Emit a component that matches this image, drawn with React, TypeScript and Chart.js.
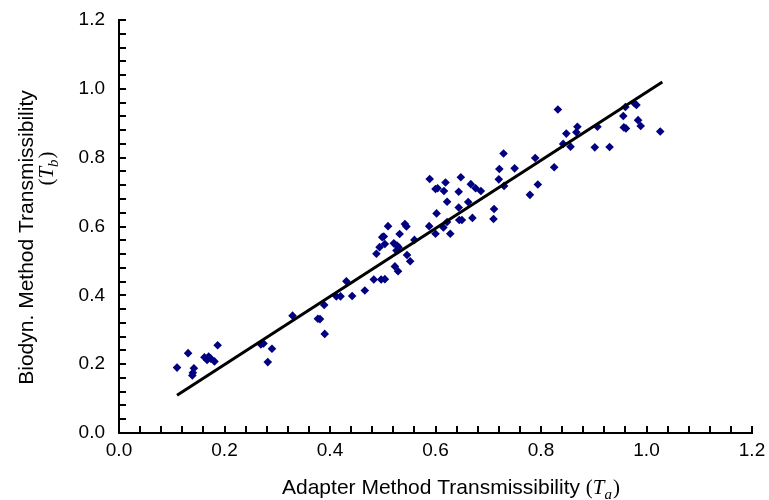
import React, { useEffect, useRef } from "react";
import { Chart, registerables } from "chart.js";

Chart.register(...registerables);

// Adapter method transmissibility (x) and biodynamic method transmissibility (y)
const adapterT = [
  0.110, 0.131, 0.142, 0.139, 0.140, 0.162, 0.167, 0.170, 0.174, 0.181,
  0.187, 0.269, 0.274, 0.282, 0.290, 0.329, 0.377, 0.381, 0.389, 0.390,
  0.412, 0.420, 0.431, 0.442, 0.466, 0.483, 0.497, 0.504, 0.488, 0.494,
  0.499, 0.502, 0.504, 0.510, 0.523, 0.529, 0.521, 0.527, 0.530, 0.526,
  0.532, 0.542, 0.545, 0.546, 0.552, 0.560, 0.588, 0.589, 0.600, 0.602,
  0.600, 0.604, 0.616, 0.619, 0.622, 0.615, 0.622, 0.628, 0.644, 0.648,
  0.644, 0.645, 0.650, 0.662, 0.667, 0.670, 0.676, 0.686, 0.711, 0.710,
  0.720, 0.721, 0.730, 0.729, 0.750, 0.779, 0.789, 0.794, 0.825, 0.832,
  0.842, 0.848, 0.856, 0.867, 0.869, 0.902, 0.907, 0.930, 0.956, 0.957,
  0.961, 0.960, 0.977, 0.981, 0.984, 0.989, 1.026,
];
const biodynT = [
  0.190, 0.232, 0.188, 0.167, 0.175, 0.220, 0.212, 0.222, 0.216, 0.208,
  0.255, 0.257, 0.260, 0.206, 0.245, 0.341, 0.332, 0.331, 0.372, 0.288,
  0.397, 0.397, 0.441, 0.398, 0.414, 0.446, 0.446, 0.447, 0.521, 0.540,
  0.569, 0.571, 0.549, 0.601, 0.484, 0.470, 0.551, 0.545, 0.540, 0.530,
  0.578, 0.607, 0.600, 0.517, 0.499, 0.561, 0.601, 0.738, 0.579, 0.638,
  0.709, 0.711, 0.703, 0.728, 0.672, 0.597, 0.613, 0.579, 0.701, 0.743,
  0.655, 0.619, 0.619, 0.671, 0.723, 0.625, 0.711, 0.703, 0.651, 0.622,
  0.737, 0.767, 0.718, 0.812, 0.769, 0.692, 0.799, 0.722, 0.772, 0.940,
  0.840, 0.870, 0.832, 0.874, 0.890, 0.830, 0.890, 0.831, 0.921, 0.888,
  0.885, 0.947, 0.958, 0.953, 0.909, 0.892, 0.876,
];

// Fitted line end points
const fitX = [0.11, 1.03];
const fitY = [0.11, 1.02];

const axisMin = 0;
const axisMax = 1.2;
const minorStep = 0.04;

const yTitleMain = "Biodyn. Method Transmissibility";
const xTitleMain = "Adapter Method Transmissibility ";
const yTitleSymbol = "T";
const yTitleSub = "b";
const xTitleSymbol = "T";
const xTitleSub = "a";

const SANS = "'Liberation Sans', Arial, sans-serif";
const SERIF = "'Liberation Serif', 'Times New Roman', serif";
const TITLE_SIZE = 21;

function measureSymbolText(ctx: CanvasRenderingContext2D, prefix: string, sym: string, sub: string) {
  ctx.font = `${TITLE_SIZE}px ${SANS}`;
  const w1 = ctx.measureText(prefix).width;
  ctx.font = `${TITLE_SIZE}px ${SERIF}`;
  const wp = ctx.measureText("(").width;
  const wq = ctx.measureText(")").width;
  ctx.font = `italic ${TITLE_SIZE}px ${SERIF}`;
  const ws = ctx.measureText(sym).width;
  ctx.font = `italic ${Math.round(TITLE_SIZE * 0.7)}px ${SERIF}`;
  const wsub = ctx.measureText(sub).width;
  return { w1, wp, wq, ws, wsub, total: w1 + wp + ws + wsub + wq + 1 };
}

function drawSymbolText(
  ctx: CanvasRenderingContext2D,
  prefix: string,
  sym: string,
  sub: string,
  x0: number,
  cy: number
) {
  const m = measureSymbolText(ctx, prefix, sym, sub);
  let x = x0;
  ctx.textBaseline = "alphabetic";
  ctx.textAlign = "left";
  ctx.font = `${TITLE_SIZE}px ${SANS}`;
  ctx.fillText(prefix, x, cy);
  x += m.w1;
  ctx.font = `${TITLE_SIZE}px ${SERIF}`;
  ctx.fillText("(", x, cy);
  x += m.wp;
  ctx.font = `italic ${TITLE_SIZE}px ${SERIF}`;
  ctx.fillText(sym, x, cy);
  x += m.ws;
  ctx.font = `italic ${Math.round(TITLE_SIZE * 0.7)}px ${SERIF}`;
  ctx.fillText(sub, x, cy + 5);
  x += m.wsub + 1;
  ctx.font = `${TITLE_SIZE}px ${SERIF}`;
  ctx.fillText(")", x, cy);
}

const decorPlugin = {
  id: "decor",
  afterDraw(chart: any) {
    const ctx: CanvasRenderingContext2D = chart.ctx;
    const { left, top, bottom } = chart.chartArea;
    const xs = chart.scales.x;
    const ys = chart.scales.y;
    ctx.save();
    ctx.strokeStyle = "#000";
    ctx.lineWidth = 2;
    const tl = 7;
    ctx.beginPath();
    xs.ticks.forEach((t: any) => {
      const px = Math.round(xs.getPixelForValue(t.value));
      ctx.moveTo(px, bottom);
      ctx.lineTo(px, bottom - tl);
    });
    ys.ticks.forEach((t: any) => {
      const py = Math.round(ys.getPixelForValue(t.value));
      ctx.moveTo(left, py);
      ctx.lineTo(left + tl, py);
    });
    ctx.stroke();

    ctx.fillStyle = "#000";
    // x title
    drawSymbolText(ctx, xTitleMain, xTitleSymbol, xTitleSub, left + 163, 494);
    // y title (rotated)
    const cy = (top + bottom) / 2 + 11;
    ctx.save();
    ctx.translate(33, cy);
    ctx.rotate(-Math.PI / 2);
    ctx.font = `${TITLE_SIZE}px ${SANS}`;
    ctx.textAlign = "center";
    ctx.textBaseline = "alphabetic";
    ctx.fillText(yTitleMain, 0, 0);
    const m = measureSymbolText(ctx, "", yTitleSymbol, yTitleSub);
    drawSymbolText(ctx, "", yTitleSymbol, yTitleSub, 69 - m.total / 2, 20);
    ctx.restore();
    ctx.restore();
  },
};

const isMajor = (v: number) => Math.abs(v * 5 - Math.round(v * 5)) < 1e-6;

export default function App() {
  const ref = useRef<HTMLCanvasElement | null>(null);
  useEffect(() => {
    if (!ref.current) return;
    const points = adapterT.map((x, i) => ({ x, y: biodynT[i] }));
    const line = fitX.map((x, i) => ({ x, y: fitY[i] }));
    const chart = new Chart(ref.current, {
      type: "scatter",
      data: {
        datasets: [
          {
            type: "line",
            data: line,
            borderColor: "#000",
            borderWidth: 3,
            pointRadius: 0,
            showLine: true,
            fill: false,
          } as any,
          {
            data: points,
            pointStyle: "rectRot",
            pointRadius: 4.3,
            backgroundColor: "#000080",
            borderColor: "#000080",
            borderWidth: 0,
          },
        ],
      },
      options: {
        animation: false,
        responsive: false,
        maintainAspectRatio: false,
        layout: { padding: { left: 0, right: 17, top: 20, bottom: 0 } },
        plugins: {
          legend: { display: false },
          tooltip: { enabled: false },
        },
        scales: {
          x: {
            type: "linear",
            min: axisMin,
            max: axisMax,
            grid: { display: false, drawTicks: false },
            border: { display: true, color: "#000", width: 2 },
            ticks: {
              stepSize: minorStep,
              autoSkip: false,
              maxRotation: 0,
              padding: 6,
              color: "#000",
              font: { family: SANS, size: 19 },
              callback: (v: any) => (isMajor(Number(v)) ? Number(v).toFixed(1) : ""),
            },
            afterFit: (s: any) => {
              s.height = 67;
              s.paddingLeft = 0;
              s.paddingRight = 0;
            },
          },
          y: {
            type: "linear",
            min: axisMin,
            max: axisMax,
            grid: { display: false, drawTicks: false },
            border: { display: true, color: "#000", width: 2 },
            ticks: {
              stepSize: minorStep,
              autoSkip: false,
              padding: 14,
              color: "#000",
              font: { family: SANS, size: 19 },
              callback: (v: any) => (isMajor(Number(v)) ? Number(v).toFixed(1) : ""),
            },
            afterFit: (s: any) => {
              s.width = 119;
              s.paddingTop = 0;
              s.paddingBottom = 0;
            },
          },
        },
      },
      plugins: [decorPlugin],
    });
    return () => chart.destroy();
  }, []);
  return (
    <div style={{ position: "fixed", left: 0, top: 0, width: 769, height: 500, background: "#fff" }}>
      <canvas ref={ref} width={769} height={500} style={{ width: 769, height: 500 }} />
    </div>
  );
}
